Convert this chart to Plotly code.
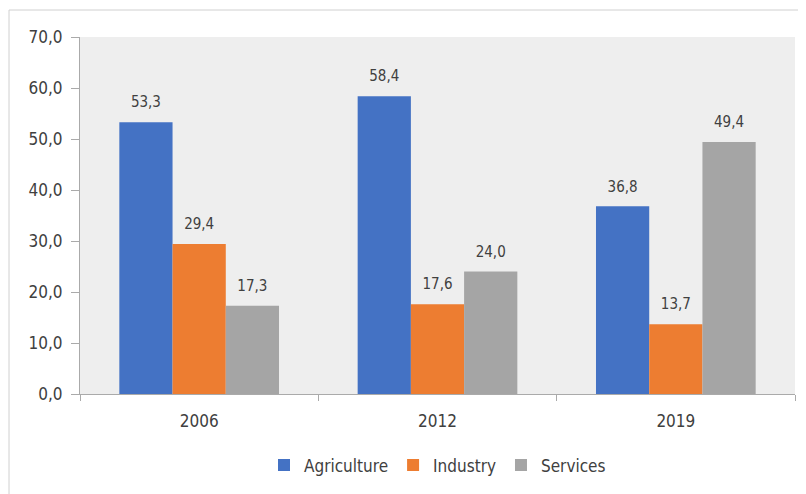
import plotly.graph_objects as go

# data
years = ['2006', '2012', '2019']
agriculture = [53.3, 58.4, 36.8]
industry = [29.4, 17.6, 13.7]
services = [17.3, 24.0, 49.4]

series = [
    ('Agriculture', agriculture, '#4472C4'),
    ('Industry', industry, '#ED7D31'),
    ('Services', services, '#A5A5A5'),
]

font_family = 'DejaVu Sans Condensed, Liberation Sans Narrow, Arial'

fig = go.Figure()
for name, values, color in series:
    fig.add_trace(go.Bar(x=years, y=values, name=name,
                         marker=dict(color=color, line=dict(width=0))))

# value labels: grouped invisible markers, the marker size sets the gap above the bar
for name, values, color in series:
    fig.add_trace(go.Scatter(x=years, y=values, name=name, showlegend=False,
                             mode='markers+text', hoverinfo='skip',
                             marker=dict(size=16, opacity=0),
                             texttemplate='%{y:.1f}', textposition='top center',
                             cliponaxis=False,
                             textfont=dict(size=15, color='#404040', family=font_family)))

# the page body adds 8px around the figure, so the figure is 8px smaller
fig.update_layout(
    width=798, height=486,
    margin=dict(l=72, r=11, t=29, b=92),
    separators=',.',
    barmode='group', bargap=0.33, bargroupgap=0,
    scattermode='group', scattergap=0.33,
    paper_bgcolor='white', plot_bgcolor='#eeeeee',
    font=dict(family=font_family, size=16, color='#404040'),
    showlegend=True,
    legend=dict(orientation='h', x=0.5, xanchor='center', y=-0.2, yanchor='middle',
                font=dict(size=17), itemwidth=30, traceorder='normal'),
    xaxis=dict(type='category', tickson='boundaries', ticks='outside', ticklen=6,
               tickcolor='#aaaaaa', showline=True, linecolor='#aaaaaa',
               showgrid=False, tickfont=dict(size=17), ticklabelstandoff=12),
    yaxis=dict(range=[0, 70], dtick=10, tickformat='.1f', ticks='outside', ticklen=8,
               tickcolor='#aaaaaa', showline=True, linecolor='#aaaaaa',
               showgrid=False, zeroline=False, tickfont=dict(size=17),
               ticklabelstandoff=5),
)

# thin frame around the chart, as in the reference screenshot
fig.add_shape(type='rect', xref='paper', yref='paper',
              x0=-0.0993, x1=1.03, y0=-0.3, y1=1.0756,
              line=dict(color='#d0d0d0', width=1), layer='below')

fig.write_html('out.html')
